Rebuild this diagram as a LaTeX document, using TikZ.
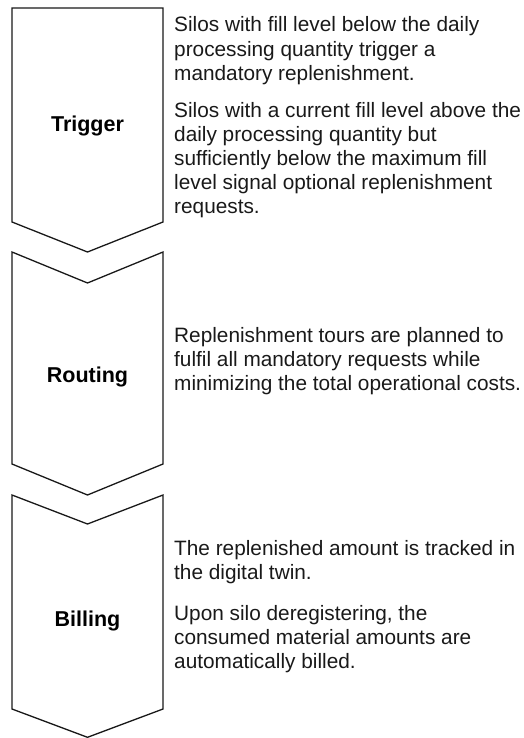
\documentclass[tikz,border=0pt]{standalone}
\usepackage{fontspec}
\setmainfont{Liberation Sans}
\begin{document}
\begin{tikzpicture}[x=1pt,y=-1pt,
  chev/.style={draw=black!90,line width=1.3pt,line join=miter,fill=white},
  phase/.style={font=\fontsize{21.5}{24}\selectfont\bfseries,inner sep=0pt,anchor=base},
  desc/.style={font=\fontsize{20.8}{24.15}\selectfont,align=left,inner sep=0pt,anchor=base west,text=black!90}]
\useasboundingbox (0,0) rectangle (524,738);

% chevron outlines
\draw[chev] (12,8) -- (163,8) -- (163,222) -- (87.5,252) -- (12,222) -- cycle;
\draw[chev] (12,252) -- (87.5,283) -- (163,252) -- (163,464) -- (87.5,495) -- (12,464) -- cycle;
\draw[chev] (12,495) -- (87.5,524) -- (163,495) -- (163,709) -- (87.5,737.3) -- (12,709) -- cycle;

% phase names
\node[phase] (trig) at (87.5,132) {Trigger};
\node[phase] (rout) at (87.5,382) {Routing};
\node[phase] (bill) at (87.5,626) {Billing};

% descriptions (positioned by the baseline of their last line)
\node[desc] (trigA) at (174,80.3) {Silos with fill level below the daily\\processing quantity trigger a\\mandatory replenishment.};
\node[desc] (trigB) at (174,213.6) {Silos with a current fill level above the\\daily processing quantity but\\sufficiently below the maximum fill\\level signal optional replenishment\\requests.};
\node[desc] (routA) at (174,390.3) {Replenishment tours are planned to\\fulfil all mandatory requests while\\minimizing the total operational costs.};
\node[desc] (billA) at (174,579.2) {The replenished amount is tracked in\\the digital twin.};
\node[desc] (billB) at (174,668.3) {Upon silo deregistering, the\\consumed material amounts are\\automatically billed.};
\end{tikzpicture}
\end{document}
